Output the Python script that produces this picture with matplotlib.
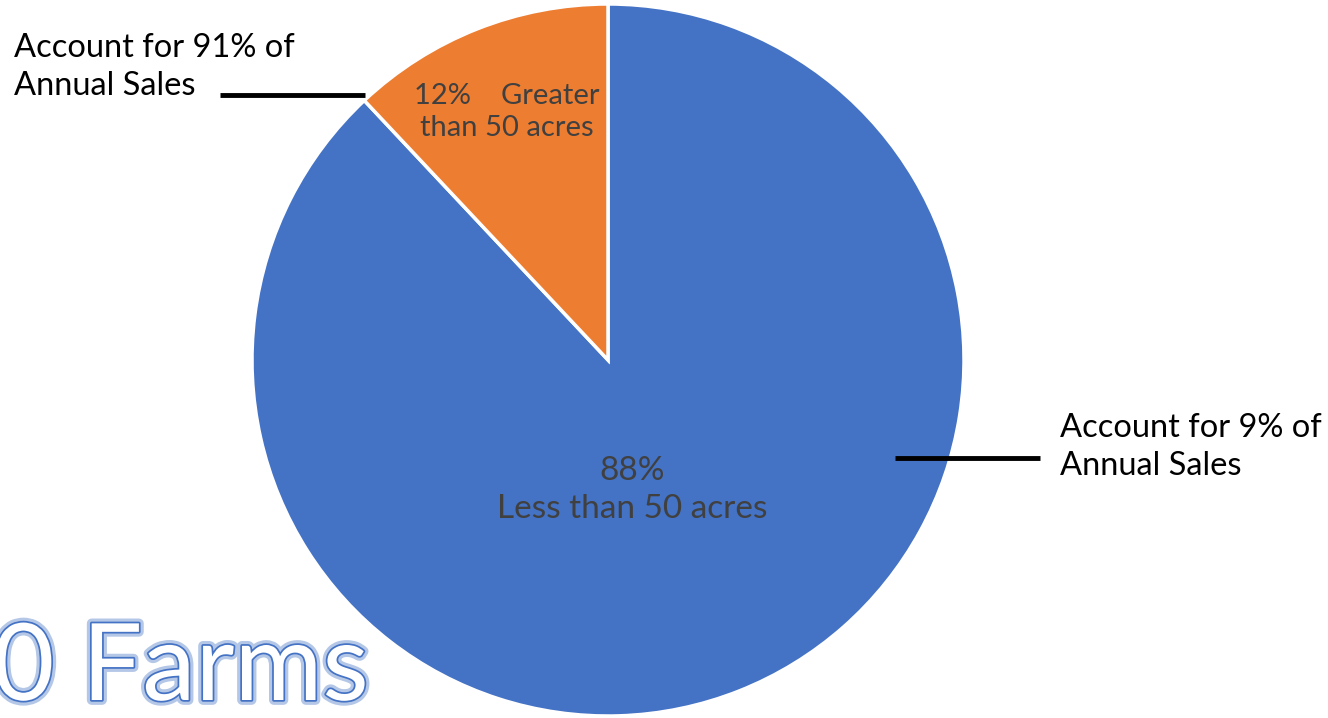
import matplotlib
matplotlib.use("Agg")
import matplotlib.pyplot as plt
import matplotlib.patheffects as pe

categories = ["Less than 50 acres", "Greater than 50 acres"]
shares = [88, 12]
colors = ["#4472C4", "#ED7D31"]
slice_labels = ["88%\nLess than 50 acres", "12%    Greater\nthan 50 acres"]
notes = ["Account for 9% of\nAnnual Sales", "Account for 91% of\nAnnual Sales"]
title_text = "0 Farms"

plt.rcParams['font.family'] = ['Lato', 'DejaVu Sans']

W, H = 1328, 718
fig = plt.figure(figsize=(W / 100, H / 100), dpi=100)
cx, cy, r = 608, 360, 356
ax = fig.add_axes([(cx - r) / W, (H - cy - r) / H, 2 * r / W, 2 * r / H])

wedges, _ = ax.pie(shares, colors=colors, startangle=90, counterclock=False,
                   radius=1, wedgeprops=dict(edgecolor='white', linewidth=2.5))
ax.set_xlim(-1, 1)
ax.set_ylim(-1, 1)
ax.set_aspect('equal')
ax.axis('off')

def px(x, y):
    return ((x - cx) / r, (cy - y) / r)

ax.text(*px(632, 490), slice_labels[0], ha='center', va='center', fontsize=24,
        color='#404040', linespacing=1.3)
ax.text(*px(507, 112), slice_labels[1], ha='center', va='center', fontsize=21,
        color='#404040', linespacing=1.3)

# connector lines
ax.plot([px(895, 458)[0], px(1040, 458)[0]], [px(895, 458)[1]] * 2, color='black',
        lw=3.5, clip_on=False, solid_capstyle='butt')
ax.plot([px(220, 95)[0], px(365, 95)[0]], [px(220, 95)[1]] * 2, color='black',
        lw=3.5, clip_on=False, solid_capstyle='butt')

fig.text(1060 / W, 1 - 447 / H, notes[0], ha='left', va='center', fontsize=23.5,
         color='black', linespacing=1.3)
fig.text(14 / W, 1 - 67 / H, notes[1], ha='left', va='center', fontsize=23.5,
         color='black', linespacing=1.3)

fig.text(369 / W, 1 - 670 / H, title_text, ha='right', va='center', fontsize=77,
         color='white',
         path_effects=[pe.withStroke(linewidth=7, foreground='#B4C7E7'),
                       pe.withStroke(linewidth=2.5, foreground='#4472C4')])

fig.savefig("out.png", dpi=100)
